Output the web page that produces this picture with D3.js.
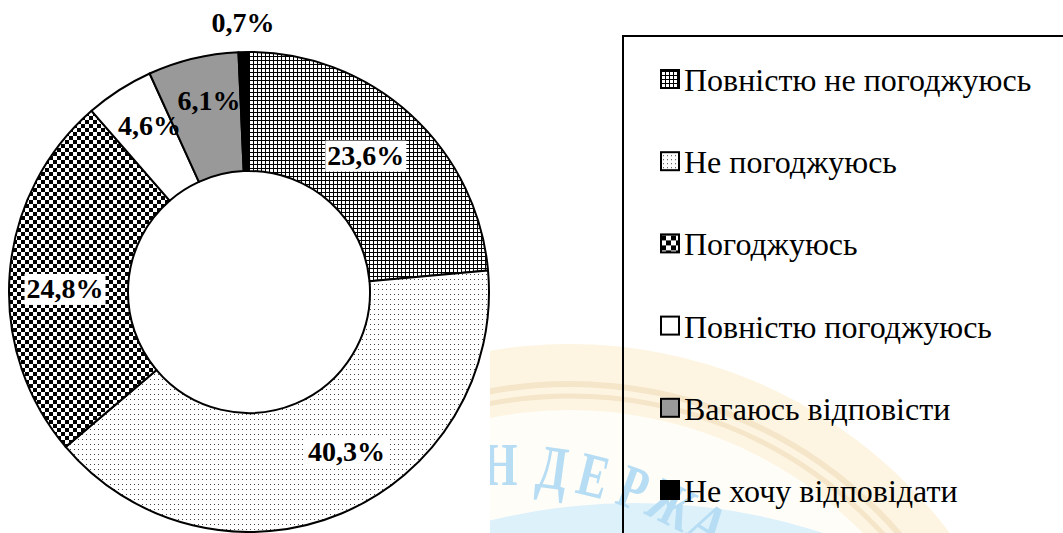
<!DOCTYPE html>
<html>
<head>
<meta charset="utf-8">
<script src="https://cdn.jsdelivr.net/npm/d3@7"></script>
<style>
  body { margin: 0; background: #fff; }
  text { font-family: "Liberation Serif", "Times New Roman", serif; }
</style>
</head>
<body>
<div id="chart"></div>
<script>
// Survey answers, clockwise from 12 o'clock
let categories = ["Повністю не погоджуюсь", "Не погоджуюсь", "Погоджуюсь",
                  "Повністю погоджуюсь", "Вагаюсь відповісти", "Не хочу відповідати"];
let shares = [23.6, 40.3, 24.8, 4.6, 6.1, 0.7];
let shareLabels = ["23,6%", "40,3%", "24,8%", "4,6%", "6,1%", "0,7%"];

// letters of the faded logo that shows through behind the legend
let watermarkText = "Н ДЕРЖА";

let width = 1063, height = 533;
let cx = 249, cy = 292, outerR = 240, innerR = 121;

// fill for each slice (patterns defined below)
let fills = ["url(#grid)", "url(#dots)", "url(#checker)", "#fff", "#999", "#000"];
let legendFills = ["url(#gridL)", "url(#dotsL)", "url(#checkerL)", "#fff", "#999", "#000"];

let svg = d3.select("#chart").append("svg")
  .attr("width", width)
  .attr("height", height);

let defs = svg.append("defs");

function addPattern(id, w, h, draw) {
  let p = defs.append("pattern")
    .attr("id", id)
    .attr("patternUnits", "userSpaceOnUse")
    .attr("width", w)
    .attr("height", h);
  p.append("rect").attr("width", w).attr("height", h).attr("fill", "#fff");
  draw(p);
}

addPattern("grid", 4, 4, p => {
  p.append("rect").attr("width", 4).attr("height", 1).attr("fill", "#000");
  p.append("rect").attr("width", 1).attr("height", 4).attr("fill", "#000");
});
addPattern("dots", 4, 5, p => {
  p.append("rect").attr("x", 1).attr("y", 2).attr("width", 1).attr("height", 1).attr("fill", "#444");
});
addPattern("checker", 8, 8, p => {
  p.append("rect").attr("width", 4).attr("height", 4).attr("fill", "#000");
  p.append("rect").attr("x", 4).attr("y", 4).attr("width", 4).attr("height", 4).attr("fill", "#000");
});
addPattern("gridL", 4, 4, p => {
  p.append("rect").attr("width", 4).attr("height", 1).attr("fill", "#000");
  p.append("rect").attr("width", 1).attr("height", 4).attr("fill", "#000");
});
addPattern("dotsL", 4, 4, p => {
  p.append("rect").attr("x", 2).attr("y", 2).attr("width", 1).attr("height", 1).attr("fill", "#444");
});
addPattern("checkerL", 10, 10, p => {
  p.append("rect").attr("width", 5).attr("height", 5).attr("fill", "#000");
  p.append("rect").attr("x", 5).attr("y", 5).attr("width", 5).attr("height", 5).attr("fill", "#000");
});

defs.append("clipPath").attr("id", "wmclip")
  .append("rect").attr("x", 490).attr("y", 0).attr("width", width - 490).attr("height", height);

////////////////////////////////////////////////////////////////////////
// faint logo watermark in the lower right

let wm = svg.append("g").attr("clip-path", "url(#wmclip)");

// beige outer band with a darker double line
let bx = 570, by = 820;
wm.append("circle").attr("cx", bx).attr("cy", by).attr("r", 476).attr("fill", "#fdf5e2");
wm.append("circle").attr("cx", bx).attr("cy", by).attr("r", 436)
  .attr("fill", "none").attr("stroke", "#f5e5c9").attr("stroke-width", 6);
wm.append("circle").attr("cx", bx).attr("cy", by).attr("r", 424)
  .attr("fill", "none").attr("stroke", "#f5e5c9").attr("stroke-width", 5);
wm.append("circle").attr("cx", bx).attr("cy", by).attr("r", 410).attr("fill", "#fffdf8");

// light blue inner disk
wm.append("circle").attr("cx", 635).attr("cy", 1110).attr("r", 607).attr("fill", "#ddf1fb");

// condensed letters running round the logo; a space takes a small step
let tx = 500, ty = 851, tr = 366;
let letterStep = 6.2, spaceStep = 1.6;
let angles = [];
let acc = 0;
watermarkText.split("").forEach(ch => {
  if (ch === " ") { acc += spaceStep; return; }
  angles.push({ ch: ch, a: acc });
  acc += letterStep;
});

wm.selectAll("text.wm")
  .data(angles)
  .enter()
  .append("text")
  .attr("class", "wm")
  .attr("transform", d => `translate(${tx},${ty}) rotate(${d.a}) translate(0,${-tr}) scale(0.72,1)`)
  .attr("text-anchor", "middle")
  .attr("font-size", 62)
  .attr("font-weight", "bold")
  .attr("fill", "#b6ddf3")
  .text(d => d.ch);

////////////////////////////////////////////////////////////////////////
// donut

let pie = d3.pie().sort(null).value(d => d);
let arcs = pie(shares);

let arc = d3.arc().innerRadius(innerR).outerRadius(outerR);

let g = svg.append("g").attr("transform", `translate(${cx},${cy})`);

g.append("circle").attr("r", innerR).attr("fill", "#fff");

g.selectAll("path.slice")
  .data(arcs)
  .enter()
  .append("path")
  .attr("class", "slice")
  .attr("d", arc)
  .attr("fill", (d, i) => fills[i])
  .attr("stroke", "#000")
  .attr("stroke-width", 2)
  .attr("stroke-linejoin", "round");

// labels: roughly where Excel put them
let midArc = d3.arc().innerRadius(innerR).outerRadius(outerR);
let outArc = d3.arc().innerRadius(270).outerRadius(270);
let nudges = [[-5, -4], [28, -7], [-4, 10], [-2, -15], [2, -16], [0, 0]];
let boxed = [true, true, true, false, false, false];

let labels = g.selectAll("g.lbl")
  .data(arcs)
  .enter()
  .append("g")
  .attr("class", "lbl")
  .attr("transform", (d, i) => {
    let c = (i === arcs.length - 1) ? outArc.centroid(d) : midArc.centroid(d);
    return `translate(${c[0] + nudges[i][0]},${c[1] + nudges[i][1]})`;
  });

labels.each(function(d, i) {
  let sel = d3.select(this);
  let t = sel.append("text")
    .attr("text-anchor", "middle")
    .attr("dy", "0.35em")
    .attr("font-size", 28)
    .attr("font-weight", "bold")
    .attr("fill", "#000")
    .text(shareLabels[i]);
  if (boxed[i]) {
    let b = t.node().getBBox();
    sel.insert("rect", "text")
      .attr("x", b.x - 2).attr("y", b.y + 1)
      .attr("width", b.width + 4).attr("height", b.height)
      .attr("fill", "#fff");
  }
});

////////////////////////////////////////////////////////////////////////
// legend

svg.append("rect")
  .attr("x", 623).attr("y", 36)
  .attr("width", 600).attr("height", 600)
  .attr("fill", "none")
  .attr("stroke", "#000")
  .attr("stroke-width", 2);

let legendY = d3.scaleLinear().domain([0, categories.length - 1]).range([91, 502]);

let items = svg.selectAll("g.item")
  .data(categories)
  .enter()
  .append("g")
  .attr("class", "item")
  .attr("transform", (d, i) => `translate(661,${legendY(i)})`);

items.append("rect")
  .attr("x", 0).attr("y", -21)
  .attr("width", 18).attr("height", 18)
  .attr("fill", (d, i) => legendFills[i])
  .attr("stroke", "#000")
  .attr("stroke-width", 2);

items.append("text")
  .attr("x", 23)
  .attr("y", 0)
  .attr("font-size", 32)
  .attr("fill", "#000")
  .text(d => d);
</script>
</body>
</html>
